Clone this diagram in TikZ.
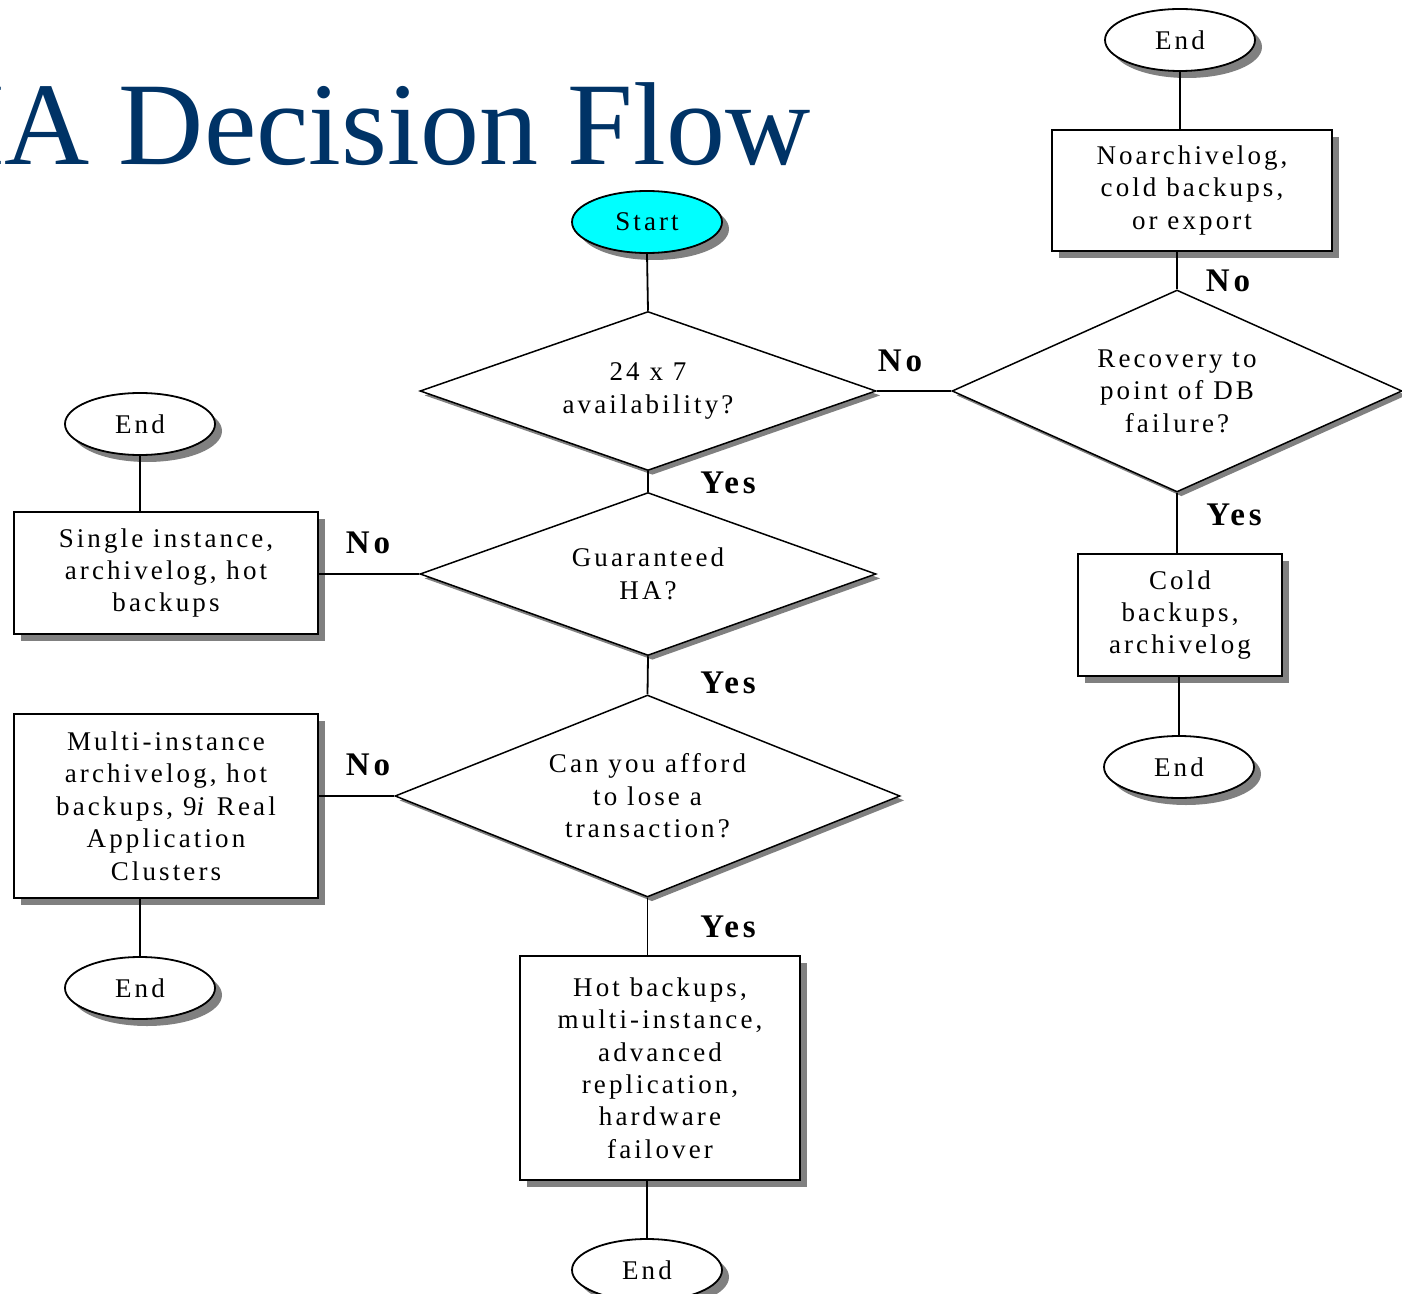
\documentclass[tikz,border=0pt]{standalone}
\usepackage{fontspec}
\setmainfont{Liberation Serif}
\newfontfamily\bodyfont[LetterSpace=11.5]{Liberation Serif}
\usetikzlibrary{shapes.geometric,shadows}
\definecolor{titleblue}{RGB}{0,51,102}
\definecolor{shadowgray}{RGB}{128,128,128}
\definecolor{startcyan}{RGB}{0,255,255}

\tikzset{
  txt/.style={font=\bodyfont\fontsize{13.5}{16.2}\selectfont, align=center, inner sep=0pt},
  boxshadow/.style={drop shadow={shadow xshift=3.5pt, shadow yshift=-3.5pt, opacity=1, fill=shadowgray}},
  thinshadow/.style={drop shadow={shadow xshift=2.2pt, shadow yshift=-2.2pt, opacity=1, fill=shadowgray}},
  termnode/.style={txt, ellipse, draw, line width=0.9pt, fill=white, minimum width=75pt, minimum height=31pt, boxshadow},
  procbox/.style={txt, rectangle, draw, line width=0.9pt, fill=white, boxshadow},
  decision/.style={txt, diamond, draw, line width=0.75pt, fill=white, thinshadow},
  answer/.style={font=\bodyfont\bfseries\fontsize{16.5}{18}\selectfont, inner sep=0pt},
  link/.style={line width=0.9pt},
}

\begin{document}
\begin{tikzpicture}[x=0.5pt, y=-0.5pt]
  \useasboundingbox (0,0) rectangle (1402,1294);
  \clip (0,0) rectangle (1402,1294);
  \fill[white] (0,0) rectangle (1402,1294);

  % heading
  \node[anchor=base east, inner sep=0pt, text=titleblue,
        font=\fontsize{59}{59}\selectfont] (title) at (811,165) {HA Decision Flow};

  % terminals
  \node[termnode, fill=startcyan] (start) at (647,222) {Start};
  \node[termnode] (endA) at (1180,40) {End};
  \node[termnode] (endB) at (140,424) {End};
  \node[termnode] (endC) at (1179,767) {End};
  \node[termnode] (endD) at (140,988) {End};
  \node[termnode] (endE) at (647,1270) {End};

  % decisions
  \node[decision, aspect=2.87, minimum width=228pt, minimum height=79.5pt] (q24) at (648,391)
    {24 x 7\\availability?};
  \node[decision, aspect=2.23, minimum width=225pt, minimum height=101pt] (qrec) at (1177,391)
    {Recovery to\\point of DB\\failure?};
  \node[decision, aspect=2.8, minimum width=228pt, minimum height=81.5pt] (qha) at (648,574)
    {Guaranteed\\HA?};
  \node[decision, aspect=2.5, minimum width=252.5pt, minimum height=101pt] (qloss) at (647.5,796)
    {Can you afford\\to lose a\\transaction?};

  % outcomes
  \node[procbox, minimum width=140pt, minimum height=60.5pt] (noarch) at (1192,190.5)
    {Noarchivelog,\\cold backups,\\or export};
  \node[procbox, minimum width=152pt, minimum height=61pt] (single) at (166,573)
    {Single instance,\\archivelog, hot\\backups};
  \node[procbox, minimum width=102pt, minimum height=61pt] (cold) at (1180,615)
    {Cold\\backups,\\archivelog};
  \node[procbox, minimum width=152pt, minimum height=92pt] (multi) at (166,806)
    {Multi-instance\\archivelog, hot\\backups, 9\textit{i} Real\\Application\\Clusters};
  \node[procbox, minimum width=140pt, minimum height=112pt] (hot) at (660,1068)
    {Hot backups,\\multi-instance,\\advanced\\replication,\\hardware\\failover};

  % connectors
  \draw[link] (endA.south) -- (noarch.north -| endA.south);
  \draw[link] (noarch.south -| qrec.north) -- (qrec.north);
  \draw[link] (start.south) -- (q24.north);
  \draw[link] (q24.east) -- (qrec.west);
  \draw[link] (q24.south) -- (qha.north);
  \draw[link] (qha.west) -- (single.east |- qha.west);
  \draw[link] (endB.south) -- (single.north -| endB.south);
  \draw[link] (qha.south) -- (qloss.north);
  \draw[link] (qloss.west) -- (multi.east |- qloss.west);
  \draw[link] (multi.south -| endD.north) -- (endD.north);
  \draw[link] (qloss.south) -- (hot.north -| qloss.south);
  \draw[link] (hot.south -| endE.north) -- (endE.north);
  \draw[link] (qrec.south) -- (cold.north -| qrec.south);
  \draw[link] (cold.south -| endC.north) -- (endC.north);

  % branch answers
  \node[answer] (aNoRec)   at (1228,281) {No};
  \node[answer] (aNo24)    at (900,361)  {No};
  \node[answer] (aYes24)   at (728,483)  {Yes};
  \node[answer] (aNoHA)    at (368,543)  {No};
  \node[answer] (aYesHA)   at (728,683)  {Yes};
  \node[answer] (aNoLoss)  at (368,765)  {No};
  \node[answer] (aYesLoss) at (728,927)  {Yes};
  \node[answer] (aYesRec)  at (1234,515) {Yes};
\end{tikzpicture}
\end{document}
